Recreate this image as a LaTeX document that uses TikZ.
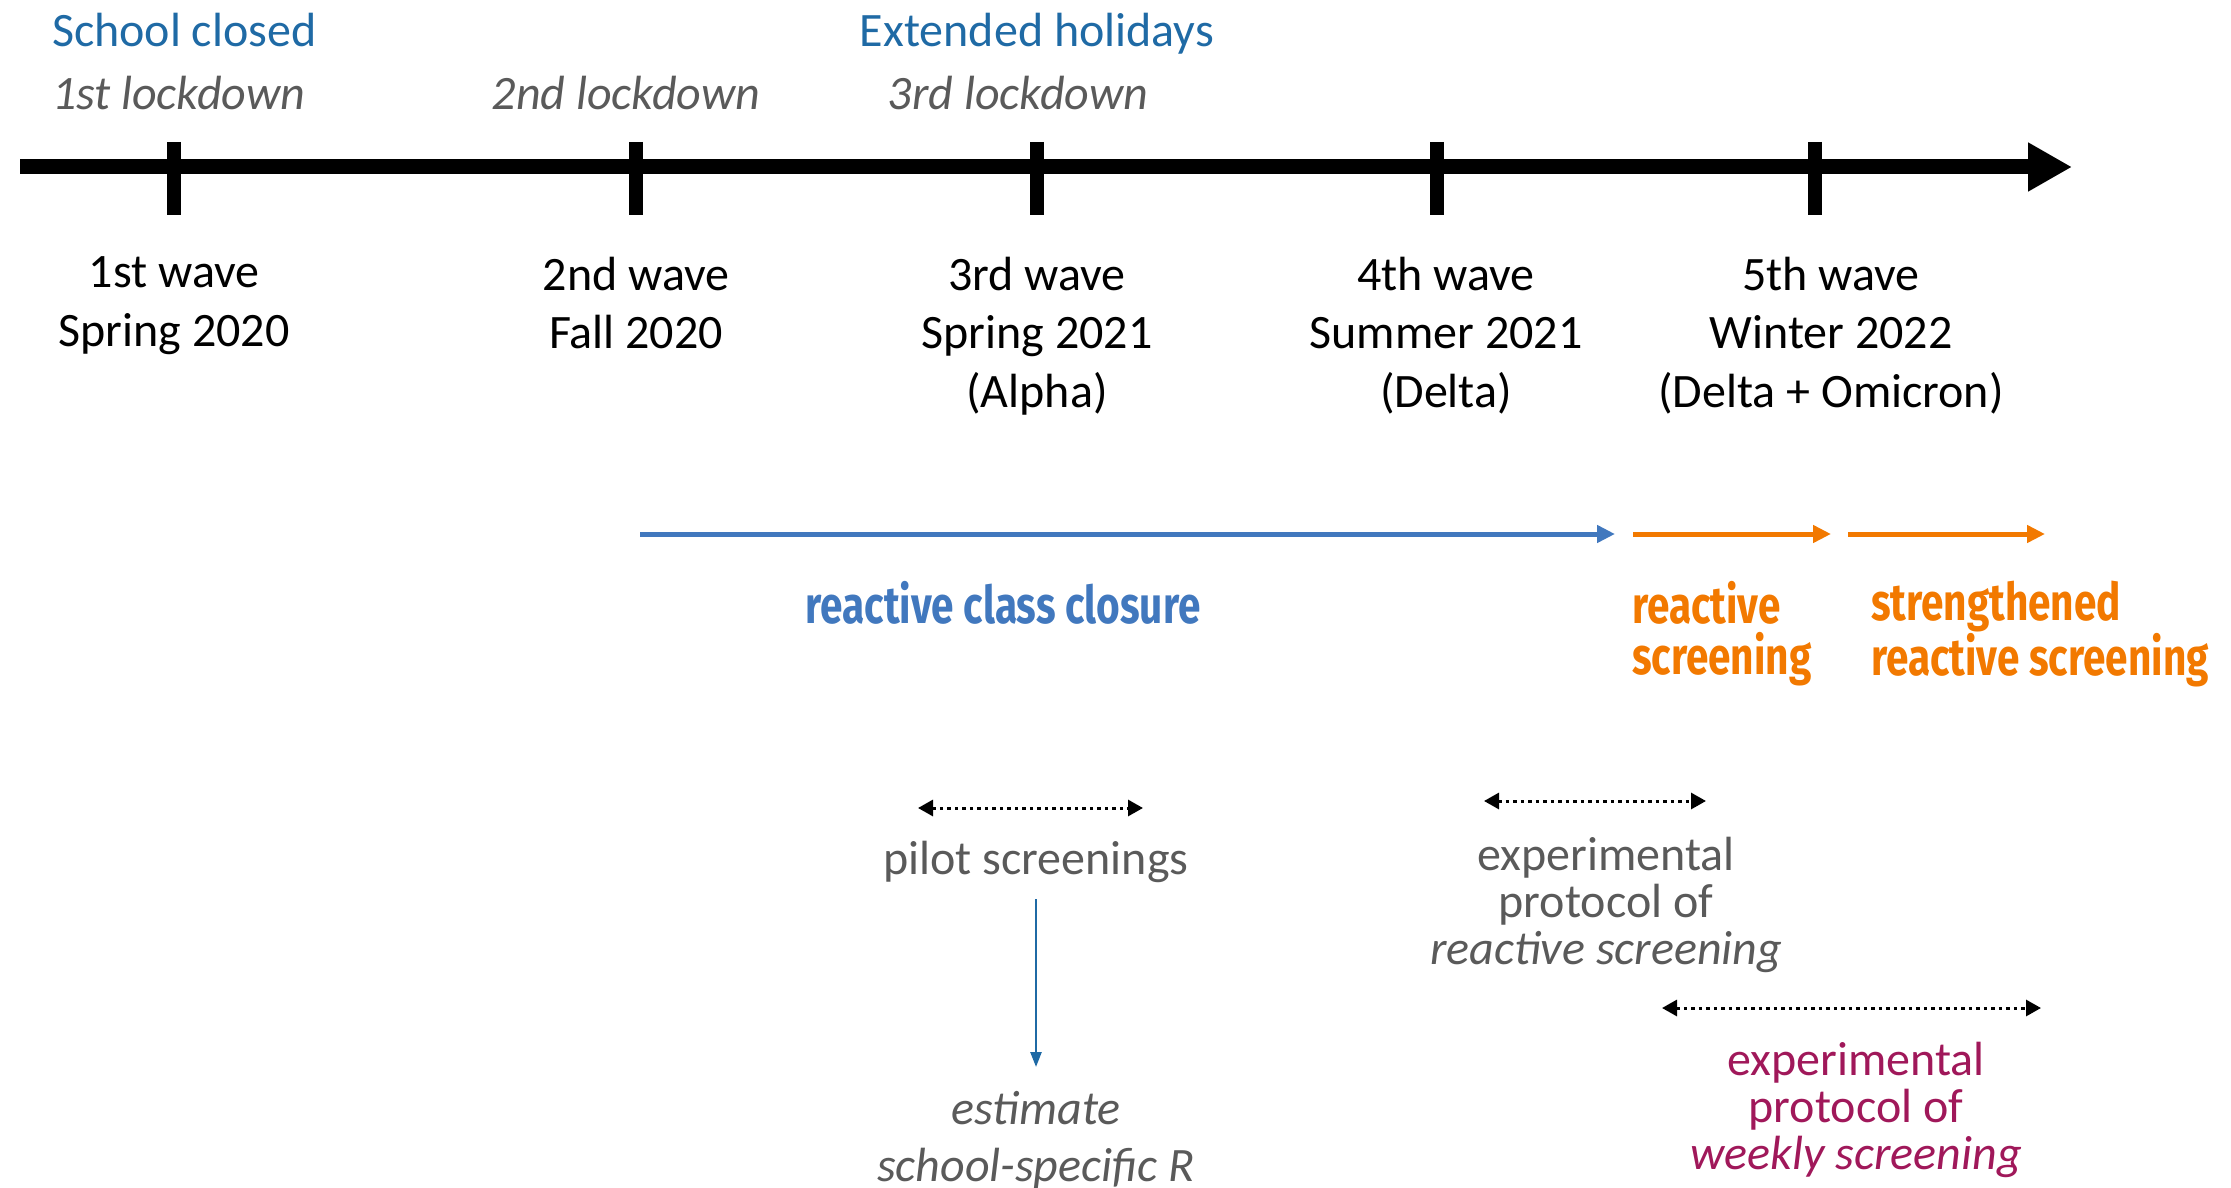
\documentclass[tikz,border=0pt]{standalone}
\usepackage{fontspec}
\setmainfont{Carlito}
\newfontfamily\condfont[FakeStretch=0.78]{Fira Sans}
\usetikzlibrary{arrows.meta}
\definecolor{topblue}{RGB}{31,106,165}
\definecolor{txtgray}{RGB}{90,90,90}
\definecolor{clsblue}{RGB}{65,120,190}
\definecolor{scrorange}{RGB}{242,121,0}
\definecolor{wkpurple}{RGB}{160,24,90}
\begin{document}
\begin{tikzpicture}[x=1pt,y=-1pt,
  every node/.style={inner sep=0pt,outer sep=0pt},
  lbl/.style={font=\fontsize{48}{58}\selectfont},
  toplbl/.style={lbl,anchor=base},
  wavelbl/.style={font=\fontsize{48}{58.5}\selectfont,align=center,anchor=north,text=black},
  condlbl/.style={font=\condfont\bfseries\fontsize{52}{51}\selectfont},
  protolbl/.style={font=\fontsize{48}{47}\selectfont,align=center,anchor=north},
  timeline/.style={line width=15pt,-{Triangle[length=44pt,width=46pt]}},
  tickmark/.style={line width=14pt},
  phase/.style={line width=5pt,-{Triangle[length=18pt,width=17pt]}},
  period/.style={line width=3pt,dash pattern=on 3.5pt off 4pt,
     {Triangle[length=15pt,width=16pt]}-{Triangle[length=15pt,width=16pt]}},
  link/.style={line width=2.5pt,topblue,-{Triangle[length=15pt,width=11pt]}}]
\useasboundingbox (0,0) rectangle (2231,1188);

% timeline
\coordinate (tlstart) at (20,167);
\coordinate (tlend) at (2072,167);
\draw[timeline] (tlstart) -- (tlend);
\foreach \x in {174,636,1037,1437,1815}
  \draw[tickmark] (\x,142) -- (\x,215);

% top labels
\node[toplbl,anchor=base west,text=topblue] (sc) at (52,47) {School closed};
\node[toplbl,anchor=base west,text=txtgray] (l1) at (52,110) {\itshape 1st lockdown};
\node[toplbl,text=txtgray] (l2) at (626,110) {\itshape 2nd lockdown};
\node[toplbl,text=topblue] (eh) at (1037,47) {Extended holidays};
\node[toplbl,text=txtgray] (l3) at (1018,110) {\itshape 3rd lockdown};

% wave labels
\node[wavelbl] (w1) at (174,257) {1st wave\\Spring 2020};
\node[wavelbl] (w2) at (636,257) {2nd wave\\Fall 2020};
\node[wavelbl] (w3) at (1037,257) {3rd wave\\Spring 2021\\(Alpha)};
\node[wavelbl] (w4) at (1446,257) {4th wave\\Summer 2021\\(Delta)};
\node[wavelbl] (w5) at (1831,257) {5th wave\\Winter 2022\\(Delta + Omicron)};

% phase arrows
\coordinate (p1a) at (640,534);
\coordinate (p1b) at (1615,534);
\coordinate (p2a) at (1633,534);
\coordinate (p2b) at (1831,534);
\coordinate (p3a) at (1848,534);
\coordinate (p3b) at (2045,534);
\draw[phase,clsblue] (p1a) -- (p1b);
\draw[phase,scrorange] (p2a) -- (p2b);
\draw[phase,scrorange] (p3a) -- (p3b);

\node[condlbl,anchor=base,text=clsblue] (rcc) at (1003,623) {reactive class closure};
\node[condlbl,anchor=base west,align=left,text=scrorange] (rs) at (1632,674) {reactive\\screening};
\node[condlbl,anchor=base west,align=left,text=scrorange] (srs) at (1871,675) {strengthened\\reactive screening};

% periods
\coordinate (d1a) at (918,808);
\coordinate (d1b) at (1143,808);
\coordinate (d2a) at (1484,801);
\coordinate (d2b) at (1706,801);
\coordinate (d3a) at (1662,1008);
\coordinate (d3b) at (2041,1008);
\draw[period] (d1a) -- (d1b);
\draw[period] (d2a) -- (d2b);
\draw[period] (d3a) -- (d3b);

\node[lbl,anchor=base,text=txtgray] (pilot) at (1036,874) {pilot screenings};
\node[protolbl,text=txtgray] (exr) at (1606,837) {experimental\\protocol of\\\itshape reactive screening};
\node[protolbl,text=wkpurple] (exw) at (1856,1042) {experimental\\protocol of\\\itshape weekly screening};
\node[font=\fontsize{48}{57}\selectfont\itshape,align=center,anchor=north,text=txtgray] (est) at (1036,1091) {estimate\\school-specific R};

\draw[link] ([yshift=-17pt]pilot.south) -- ([yshift=24pt]est.north);
\end{tikzpicture}
\end{document}
